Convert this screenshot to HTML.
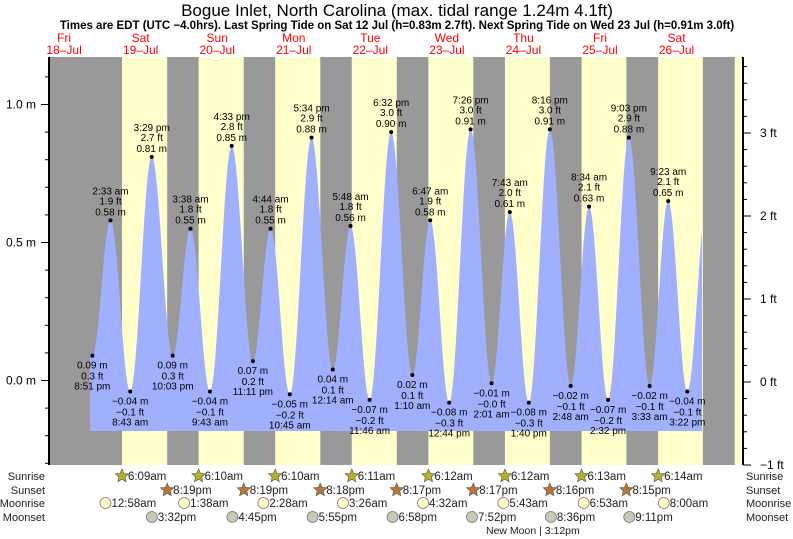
<!DOCTYPE html>
<html><head><meta charset="utf-8"><style>
body{margin:0;background:#fff;}
svg{display:block;font-family:"Liberation Sans",sans-serif;}
</style></head><body>
<svg id="c" width="793" height="539" viewBox="0 0 793 539" xmlns="http://www.w3.org/2000/svg">
<text x="397" y="16" font-size="17" text-anchor="middle">Bogue Inlet, North Carolina (max. tidal range 1.24m 4.1ft)</text>
<text x="397" y="29" font-size="11.5" font-weight="bold" text-anchor="middle">Times are EDT (UTC −4.0hrs). Last Spring Tide on Sat 12 Jul (h=0.83m 2.7ft). Next Spring Tide on Wed 23 Jul (h=0.91m 3.0ft)</text>
<g id="bands"></g>
<g id="fill"></g>
<g id="marks"></g>
<g id="axes"></g>
<g id="bottom"></g>
</svg>
<script>
// ---- data ----
const dayNames = ["Fri","Sat","Sun","Mon","Tue","Wed","Thu","Fri","Sat"];
const dayDates = ["18–Jul","19–Jul","20–Jul","21–Jul","22–Jul","23–Jul","24–Jul","25–Jul","26–Jul"];
// tide extremes: hours since 18 Jul 00:00
const tideHours = [20.85,26.55,32.72,39.48,46.05,51.63,57.72,64.55,71.18,76.73,82.75,89.57,96.23,101.8,107.77,114.53,121.17,126.78,132.73,139.43,146.02,151.72,157.67,164.27,170.8,176.57,182.53,189.05,195.55,201.38,207.37];
const tideMeters = [0.09,0.58,-0.04,0.81,0.09,0.55,-0.04,0.85,0.07,0.55,-0.05,0.88,0.04,0.56,-0.07,0.90,0.02,0.58,-0.08,0.91,-0.01,0.61,-0.08,0.91,-0.02,0.63,-0.07,0.88,-0.02,0.65,-0.04];
const tideFeet = ["0.3","1.9","−0.1","2.7","0.3","1.8","−0.1","2.8","0.2","1.8","−0.2","2.9","0.1","1.8","−0.2","3.0","0.1","1.9","−0.3","3.0","−0.0","2.0","−0.3","3.0","−0.1","2.1","−0.2","2.9","−0.1","2.1","−0.1"];
const tideTimes = ["8:51 pm","2:33 am","8:43 am","3:29 pm","10:03 pm","3:38 am","9:43 am","4:33 pm","11:11 pm","4:44 am","10:45 am","5:34 pm","12:14 am","5:48 am","11:46 am","6:32 pm","1:10 am","6:47 am","12:44 pm","7:26 pm","2:01 am","7:43 am","1:40 pm","8:16 pm","2:48 am","8:34 am","2:32 pm","9:03 pm","3:33 am","9:23 am","3:22 pm"];
// sun/moon: hours since 18 Jul 00:00
const sunriseHours = [30.15,54.17,78.17,102.18,126.2,150.2,174.22,198.23,222.23];
const sunriseLabels = ["6:09am","6:10am","6:10am","6:11am","6:12am","6:12am","6:13am","6:14am",""];
const sunsetHours = [20.32,44.32,68.32,92.3,116.28,140.28,164.27,188.25,212.25];
const sunsetLabels = ["","8:19pm","8:19pm","8:18pm","8:17pm","8:17pm","8:16pm","8:15pm",""];
const moonriseHours = [24.97,49.63,74.47,99.43,124.53,149.72,174.88,200.0];
const moonriseLabels = ["12:58am","1:38am","2:28am","3:26am","4:32am","5:43am","6:53am","8:00am"];
const moonsetHours = [39.53,64.75,89.92,114.97,139.87,164.6,189.18];
const moonsetLabels = ["3:32pm","4:45pm","5:55pm","6:58pm","7:52pm","8:36pm","9:11pm"];
const leftTickLabels = ["0.0 m","0.5 m","1.0 m"];
const leftTickValues = [0,0.5,1.0];
const rightTickLabels = ["−1 ft","0 ft","1 ft","2 ft","3 ft"];
const rightTickValues = [-1,0,1,2,3];

// ---- scales ----
const X0=49, X1=743, Y0=57, Y1=465;
const xH = h => 25.8 + h*3.19;
const yM = m => 380.5 - m*276;
const yF = f => 382 - f*83;
const NS="http://www.w3.org/2000/svg";
function mk(tag, parent, attrs, text){
  const e=document.createElementNS(NS,tag);
  for(const k in attrs) e.setAttribute(k,attrs[k]);
  if(text!==undefined) e.textContent=text;
  document.getElementById(parent).appendChild(e);
  return e;
}
// ---- bands ----
let bg=mk('rect','bands',{x:X0,y:Y0,width:X1-X0,height:Y1-Y0,fill:'#999999'});


for(let i=0;i<sunriseHours.length;i++){
  const a=Math.max(X0,xH(sunriseHours[i])), b=Math.min(X1,xH(sunsetHours[i]+24));
  if(b>a){
    const r=mk('rect','bands',{x:a,y:Y0,width:b-a,height:Y1-Y0,fill:'#ffffcc'});
    
    
  }
}
for(let i=0;i<dayNames.length;i++){
  const cx=xH(12+24*i);
  const t1=mk('text','bands',{x:cx,y:42,'font-size':12,fill:'#ff0000','text-anchor':'middle'},dayNames[i]);
  
  
  const t2=mk('text','bands',{x:cx,y:54,'font-size':12,fill:'#ff0000','text-anchor':'middle'},dayDates[i]);
  
  
}
// ---- tide curve ----
function level(h){
  let hs=tideHours.slice(), ms=tideMeters.slice();
  hs.unshift(hs[0]-6.2); ms.unshift(ms[1]);
  hs.push(hs[hs.length-1]+6.2); ms.push(ms[ms.length-2]);
  for(let i=0;i<hs.length-1;i++){
    if(h>=hs[i]&&h<=hs[i+1]){
      const f=(h-hs[i])/(hs[i+1]-hs[i]);
      return ms[i]+(ms[i+1]-ms[i])*(1-Math.cos(Math.PI*f))/2;
    }
  }
  return ms[ms.length-1];
}
const xa=90, xb=702, yb=431;
let d=`M${xa},${yb}`;
for(let x=xa;x<=xb;x+=1){ d+=` L${x},${yM(level((x-25.8)/3.19)).toFixed(1)}`; }
d+=` L${xb},${yb} Z`;
const p=mk('path','fill',{d:d,fill:'#a0b0ff'});


for(let i=0;i<tideHours.length;i++){
  const x=xH(tideHours[i]), y=yM(tideMeters[i]);
  const hi = i>0 ? tideMeters[i]>tideMeters[i-1] : tideMeters[i]>tideMeters[i+1];
  const c=mk('circle','marks',{cx:x,cy:y,r:2,fill:'#000'});
  
  
  const m=tideMeters[i].toFixed(2).replace('-','−')+' m';
  const lines = hi ? [[y-26,tideTimes[i]],[y-16,tideFeet[i]+' ft'],[y-5,m]]
                   : [[y+13,m],[y+24,tideFeet[i]+' ft'],[y+34,tideTimes[i]]];
  for(const [ty,tx] of lines){
    const t=mk('text','marks',{x:x,y:ty,'font-size':10,'text-anchor':'middle',fill:'#000'},tx);
    
    
  }
}
// ---- axes ----
const la=mk('line','axes',{x1:X0,y1:Y0,x2:X0,y2:Y1,stroke:'#000','stroke-width':2});


const ra=mk('line','axes',{x1:X1,y1:Y0,x2:X1,y2:Y1,stroke:'#000','stroke-width':2});


for(let v=-0.3;v<=1.21;v+=0.1){
  const y=yM(v); if(y<Y0||y>Y1) continue;
  const major=Math.abs(v*2-Math.round(v*2))<0.01;
  mk('line','axes',{x1:X0-(major?8:4),y1:y,x2:X0,y2:y,stroke:'#000'});
}
for(let i=0;i<leftTickValues.length;i++){
  const t=mk('text','axes',{x:36,y:yM(leftTickValues[i])+4,'font-size':12,'text-anchor':'end'},leftTickLabels[i]);
  
  
}
for(let k=-5;k<=19;k++){
  const y=yF(k*0.2); if(y<Y0||y>Y1) continue;
  const major=k%5===0;
  mk('line','axes',{x1:X1,y1:y,x2:X1+(major?8:4),y2:y,stroke:'#000'});
}
for(let i=0;i<rightTickValues.length;i++){
  const t=mk('text','axes',{x:760,y:yF(rightTickValues[i])+4,'font-size':12},rightTickLabels[i]);
  
  
}
// ---- bottom rows ----
const rows=[["Sunrise",480],["Sunset",494],["Moonrise",507],["Moonset",521]];
for(const [n,y] of rows){
  const a=mk('text','bottom',{x:45,y:y,'font-size':11,'text-anchor':'end',fill:'#222'},n);
  
  
  const b=mk('text','bottom',{x:746,y:y,'font-size':11,fill:'#222'},n);
  
  
}
function star(cx,cy,fill){
  let pts=[];
  for(let k=0;k<10;k++){const r=k%2?3.2:7;const a=-Math.PI/2+k*Math.PI/5;pts.push((cx+r*Math.cos(a)).toFixed(1)+','+(cy+r*Math.sin(a)).toFixed(1));}
  return mk('polygon','bottom',{points:pts.join(' '),fill:fill,stroke:'#554','stroke-width':0.6});
}
function iconRow(hours,labels,y,kind){
  for(let i=0;i<hours.length;i++){
    if(!labels[i]) continue;
    const x=xH(hours[i]); if(x<X0||x>X1) continue;
    let ic;
    if(kind==='rise') ic=star(x,y-4,'#b5b030');
    else if(kind==='set') ic=star(x,y-4,'#b8743a');
    else ic=mk('circle','bottom',{cx:x,cy:y-4,r:5.5,fill:kind==='mrise'?'#ffffcc':'#c8c8b8',stroke:'#777','stroke-width':0.8});
    
    
    const t=mk('text','bottom',{x:x+6,y:y,'font-size':11.5,fill:'#222'},labels[i]);
    
    
  }
}
iconRow(sunriseHours,sunriseLabels,480,'rise');
iconRow(sunsetHours,sunsetLabels,494,'set');
iconRow(moonriseHours,moonriseLabels,507,'mrise');
iconRow(moonsetHours,moonsetLabels,521,'mset');
const nm=mk('text','bottom',{x:486,y:534,'font-size':10.5,fill:'#222'},'New Moon | 3:12pm');


</script>
</body></html>
